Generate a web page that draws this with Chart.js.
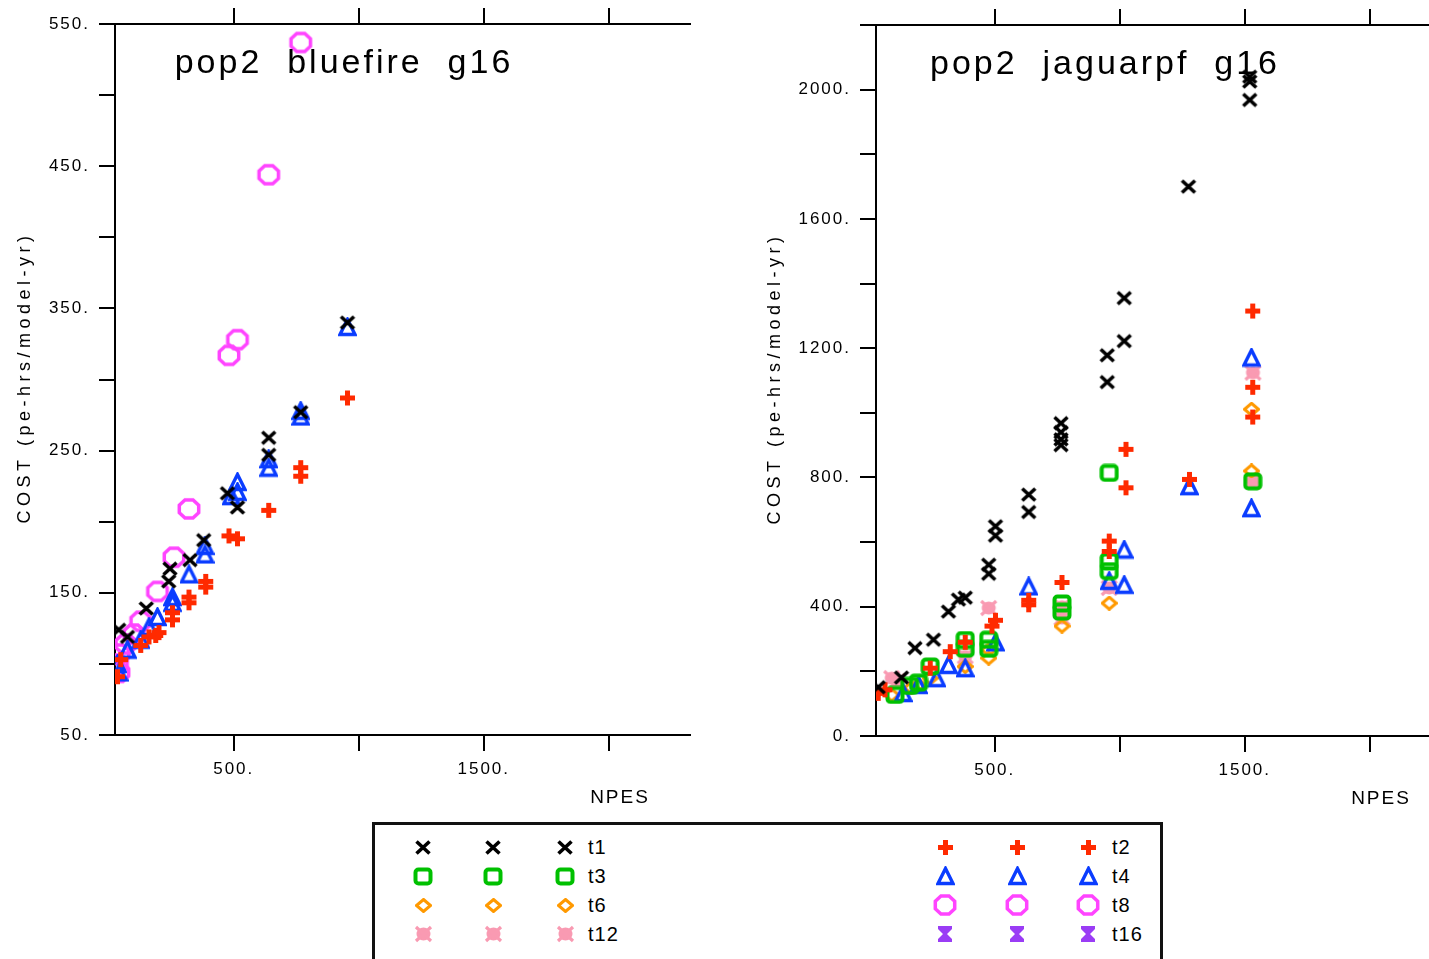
<!DOCTYPE html>
<html>
<head>
    <title>pop2 g16 cost vs NPES</title>
    <style>
        body {
            margin: 0;
            width: 1429px;
            height: 959px;
            overflow: hidden;
            background: #fff;
            position: relative;
            font-family: "Liberation Sans", Arial, sans-serif;
        }
        #leftChart { position: absolute; left: 0; top: 0; }
        #rightChart { position: absolute; left: 750px; top: 1px; }
        #legend {
            position: absolute;
            left: 372px;
            top: 822px;
            width: 785px;
            height: 160px;
            border: 3px solid #111;
            background: #fff;
        }
        #legend canvas { position: absolute; }
        #legend span {
            position: absolute;
            font-size: 20px;
            line-height: 24px;
            letter-spacing: 1px;
            color: #000;
        }
    </style>
</head>
<body>
    <canvas id="leftChart" width="700" height="815"></canvas>
    <canvas id="rightChart" width="711" height="815"></canvas>
    <div id="legend"></div>

    <script src="https://cdn.jsdelivr.net/npm/chart.js"></script>
    <script>
        // ---- data: bluefire ----
        var bfT1Npes = [40, 75, 150, 240, 245, 325, 380, 475, 515, 640, 640, 768, 955];
        var bfT1Cost = [124, 119, 139, 158, 167, 173, 187, 220, 210, 247, 259, 277, 340];
        var bfT2Npes = [35, 48, 128, 161, 188, 201, 255, 255, 321, 321, 388, 388, 481, 515, 640, 768, 768, 955];
        var bfT2Cost = [91, 103, 113, 119, 120, 122, 136, 131, 147, 143, 158, 154, 190, 188, 208, 238, 232, 287];
        var bfT4Npes = [35, 41, 75, 128, 161, 195, 255, 255, 321, 385, 385, 490, 515, 515, 640, 640, 768, 768, 955];
        var bfT4Cost = [100, 94, 110, 117, 126, 133, 147, 143, 163, 183, 177, 218, 228, 221, 244, 238, 278, 274, 337];
        var bfT8Npes = [35, 41, 41, 68, 101, 128, 195, 261, 321, 481, 515, 640, 768];
        var bfT8Cost = [100, 94, 107, 114, 121, 130, 151, 175, 209, 317, 328, 444, 537];

        // ---- data: jaguarpf ----
        var jgT1Npes = [34, 127, 181, 255, 315, 355, 382, 476, 476, 503, 503, 636, 636, 765, 765, 765, 765, 950, 950, 1018, 1018, 1275, 1520, 1520, 1520];
        var jgT1Cost = [151, 181, 272, 298, 385, 422, 428, 530, 502, 649, 620, 747, 693, 968, 940, 918, 900, 1178, 1095, 1355, 1222, 1700, 2040, 2025, 1968];
        var jgT2Npes = [34, 61, 242, 322, 382, 489, 503, 636, 636, 769, 958, 958, 1025, 1025, 1279, 1532, 1532, 1532];
        var jgT2Cost = [132, 143, 210, 261, 290, 340, 358, 420, 406, 475, 603, 571, 887, 768, 794, 1315, 1079, 987];
        var jgT3Npes = [101, 160, 195, 242, 382, 382, 476, 476, 769, 769, 958, 958, 958, 1532];
        var jgT3Cost = [127, 155, 165, 215, 297, 270, 298, 270, 410, 385, 814, 540, 510, 788];
        var jgT4Npes = [134, 195, 268, 315, 382, 503, 636, 958, 1018, 1018, 1279, 1527, 1527];
        var jgT4Cost = [133, 158, 179, 220, 210, 290, 463, 480, 577, 468, 773, 1171, 705];
        var jgT6Npes = [88, 167, 195, 242, 382, 476, 476, 769, 958, 1527, 1527];
        var jgT6Cost = [127, 149, 158, 179, 215, 267, 241, 340, 411, 1011, 820];
        var jgT12Npes = [88, 110, 382, 476, 769, 769, 958, 1533, 1533];
        var jgT12Cost = [179, 170, 246, 396, 400, 365, 458, 1124, 788];

        // ---- axes ----
        var xTickValues = [500, 1000, 1500, 2000];
        var xTickLabels = [500, 1500];
        var bfYLabels = [50, 150, 250, 350, 450, 550];
        var jgYLabels = [0, 400, 800, 1200, 1600, 2000];

        var bfTitle = 'pop2  bluefire  g16';
        var jgTitle = 'pop2  jaguarpf  g16';
        var yTitle = 'COST (pe-hrs/model-yr)';
        var xTitle = 'NPES';

        // ---- marker styles ----
        var styles = {
            t1:  { kind: 'cross',     color: '#000000' },
            t2:  { kind: 'plus',      color: '#ff2a00' },
            t3:  { kind: 'square',    color: '#00c000' },
            t4:  { kind: 'triangle',  color: '#0a3cff' },
            t6:  { kind: 'diamond',   color: '#ff9900' },
            t8:  { kind: 'octagon',   color: '#ff44ff' },
            t12: { kind: 'blob',      color: '#f99ab2' },
            t16: { kind: 'hourglass', color: '#9a3cf5' }
        };

        function makeMarker(kind, color) {
            var c = document.createElement('canvas');
            var sizes = { cross: [18, 17], plus: [17, 17], square: [20, 19], triangle: [19, 20],
                          diamond: [17, 15], octagon: [26, 24], blob: [19, 18], hourglass: [16, 18] };
            c.width = sizes[kind][0];
            c.height = sizes[kind][1];
            var g = c.getContext('2d');
            g.strokeStyle = color;
            g.fillStyle = color;
            g.beginPath();
            if (kind === 'cross') {
                g.lineWidth = 3.6;
                g.moveTo(2.5, 2.5); g.lineTo(15.5, 14.5);
                g.moveTo(15.5, 2.5); g.lineTo(2.5, 14.5);
                g.stroke();
            } else if (kind === 'plus') {
                g.fillRect(1, 6, 15, 5);
                g.fillRect(6, 1, 5, 15);
            } else if (kind === 'square') {
                g.lineWidth = 4;
                g.roundRect(2.5, 2.5, 15, 14, 3);
                g.stroke();
            } else if (kind === 'triangle') {
                g.lineWidth = 3.4;
                g.moveTo(9.5, 2.5); g.lineTo(17, 17.5); g.lineTo(2, 17.5); g.closePath();
                g.stroke();
            } else if (kind === 'diamond') {
                g.lineWidth = 3;
                g.moveTo(8.5, 1.5); g.lineTo(15.5, 7.5); g.lineTo(8.5, 13.5); g.lineTo(1.5, 7.5); g.closePath();
                g.stroke();
            } else if (kind === 'octagon') {
                g.lineWidth = 3.5;
                for (var i = 0; i < 8; i++) {
                    var a = Math.PI / 8 + i * Math.PI / 4;
                    var px = 13 + 10.5 * Math.cos(a), py = 12 + 9.8 * Math.sin(a);
                    if (i === 0) g.moveTo(px, py); else g.lineTo(px, py);
                }
                g.closePath();
                g.stroke();
            } else if (kind === 'blob') {
                g.ellipse(9.5, 9, 7, 6.5, 0, 0, Math.PI * 2);
                g.fill();
                g.lineWidth = 3.2;
                g.beginPath();
                g.moveTo(2, 2); g.lineTo(17, 16);
                g.moveTo(17, 2); g.lineTo(2, 16);
                g.stroke();
            } else if (kind === 'hourglass') {
                g.moveTo(1, 1); g.lineTo(15, 1); g.lineTo(15, 4); g.lineTo(10, 9);
                g.lineTo(15, 14); g.lineTo(15, 17); g.lineTo(1, 17); g.lineTo(1, 14);
                g.lineTo(6, 9); g.lineTo(1, 4); g.closePath();
                g.fill();
            }
            return c;
        }

        var markers = {};
        Object.keys(styles).forEach(function (k) {
            markers[k] = makeMarker(styles[k].kind, styles[k].color);
        });

        function series(name, npes, cost) {
            return {
                label: name,
                data: npes.map(function (x, i) { return { x: x, y: cost[i] }; }),
                pointStyle: markers[name],
                pointRadius: 8,
                showLine: false
            };
        }

        Chart.defaults.font.family = '"Liberation Sans", Arial, sans-serif';
        Chart.defaults.font.size = 17;
        Chart.defaults.color = '#000';

        // titles, axis names; also widens the tick text a bit like the original
        var panelText = {
            id: 'panelText',
            beforeDraw: function (chart) {
                chart.ctx.letterSpacing = '2px';
            },
            afterDraw: function (chart, args, opts) {
                var a = chart.chartArea, ctx = chart.ctx;
                ctx.save();
                ctx.fillStyle = '#000';
                ctx.textAlign = 'center';
                ctx.textBaseline = 'middle';
                ctx.letterSpacing = '3px';
                ctx.font = '34px "Liberation Sans"';
                ctx.fillText(opts.title, a.left + 229, a.top + 40);
                ctx.letterSpacing = '2px';
                ctx.font = '19px "Liberation Sans"';
                ctx.fillText(xTitle, a.right - 70, a.bottom + 63);
                ctx.translate(25, (a.top + a.bottom) / 2 - 2);
                ctx.rotate(-Math.PI / 2);
                ctx.letterSpacing = '4.5px';
                ctx.font = '18px "Liberation Sans"';
                ctx.fillText(yTitle, 0, 0);
                ctx.restore();
            }
        };

        function makePanel(id, title, datasets, yMin, yMax, yStep, yLabels, yWidth) {
            var axisGrid = { drawOnChartArea: false, drawTicks: true, tickLength: 16, color: '#000', lineWidth: 2 };
            var axisBorder = { display: true, color: '#000', width: 2 };
            var setXTicks = function (s) {
                s.ticks = xTickValues.map(function (v) { return { value: v }; });
            };
            return new Chart(document.getElementById(id).getContext('2d'), {
                type: 'scatter',
                data: { datasets: datasets },
                options: {
                    responsive: false,
                    animation: false,
                    events: [],
                    layout: { padding: { left: 0, right: 10, top: 0, bottom: 0 } },
                    plugins: {
                        legend: { display: false },
                        tooltip: { enabled: false },
                        panelText: { title: title }
                    },
                    scales: {
                        x: {
                            type: 'linear', position: 'bottom', min: 25, max: 2325,
                            afterBuildTicks: setXTicks,
                            afterFit: function (s) { s.height = 80; },
                            grid: axisGrid, border: axisBorder,
                            ticks: {
                                padding: 8, maxRotation: 0, autoSkip: false,
                                callback: function (v) { return xTickLabels.indexOf(v) >= 0 ? v + '.' : ''; }
                            }
                        },
                        xTop: {
                            type: 'linear', position: 'top', min: 25, max: 2325,
                            afterBuildTicks: setXTicks,
                            afterFit: function (s) { s.height = 24; },
                            grid: axisGrid, border: axisBorder,
                            ticks: { display: false }
                        },
                        y: {
                            type: 'linear', position: 'left', min: yMin, max: yMax,
                            afterFit: function (s) { s.width = yWidth; },
                            grid: axisGrid, border: axisBorder,
                            ticks: {
                                stepSize: yStep, padding: 9, autoSkip: false,
                                callback: function (v) { return yLabels.indexOf(v) >= 0 ? v + '.' : ''; }
                            }
                        }
                    }
                },
                plugins: [panelText]
            });
        }

        makePanel('leftChart', bfTitle, [
            series('t1', bfT1Npes, bfT1Cost),
            series('t2', bfT2Npes, bfT2Cost),
            series('t4', bfT4Npes, bfT4Cost),
            series('t8', bfT8Npes, bfT8Cost)
        ], 50, 550, 50, bfYLabels, 115);

        makePanel('rightChart', jgTitle, [
            series('t1', jgT1Npes, jgT1Cost),
            series('t2', jgT2Npes, jgT2Cost),
            series('t3', jgT3Npes, jgT3Cost),
            series('t4', jgT4Npes, jgT4Cost),
            series('t6', jgT6Npes, jgT6Cost),
            series('t12', jgT12Npes, jgT12Cost)
        ], 0, 2200, 200, jgYLabels, 126);

        // ---- legend: three markers then the name, two groups of four rows ----
        var legendLeft = ['t1', 't3', 't6', 't12'];
        var legendRight = ['t2', 't4', 't8', 't16'];
        var legend = document.getElementById('legend');
        function addLegendGroup(names, markerX, labelX) {
            names.forEach(function (name, row) {
                var cy = 22 + row * 29;
                markerX.forEach(function (mx) {
                    var src = markers[name];
                    var c = document.createElement('canvas');
                    c.width = src.width;
                    c.height = src.height;
                    c.getContext('2d').drawImage(src, 0, 0);
                    c.style.left = (mx - src.width / 2) + 'px';
                    c.style.top = (cy - src.height / 2) + 'px';
                    legend.appendChild(c);
                });
                var s = document.createElement('span');
                s.textContent = name;
                s.style.left = labelX + 'px';
                s.style.top = (cy - 12) + 'px';
                legend.appendChild(s);
            });
        }
        addLegendGroup(legendLeft, [48, 118, 190], 213);
        addLegendGroup(legendRight, [570, 642, 713], 737);
    </script>
</body>
</html>
